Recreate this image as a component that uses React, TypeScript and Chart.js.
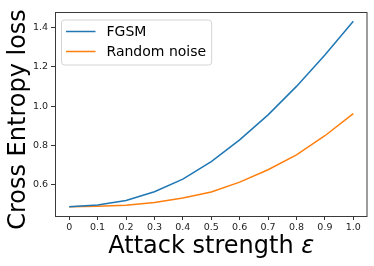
import React, { useEffect, useRef } from "react";
import { Chart, registerables } from "chart.js";

Chart.register(...registerables);

// ---- data ----
const epsilons = [0, 0.1, 0.2, 0.3, 0.4, 0.5, 0.6, 0.7, 0.8, 0.9, 1.0];
const xTickLabels = ["0", "0.1", "0.2", "0.3", "0.4", "0.5", "0.6", "0.7", "0.8", "0.9", "1.0"];
const fgsmLoss = [0.488, 0.497, 0.52, 0.564, 0.628, 0.717, 0.828, 0.955, 1.1, 1.26, 1.431];
const randomNoiseLoss = [0.488, 0.491, 0.496, 0.51, 0.532, 0.563, 0.613, 0.676, 0.752, 0.849, 0.961];
const yTicks = [0.6, 0.8, 1.0, 1.2, 1.4];
const yTickLabels = ["0.6", "0.8", "1.0", "1.2", "1.4"];
const seriesNames = ["FGSM", "Random noise"];
const seriesColors = ["#1f77b4", "#ff7f0e"];
const xTitleText = "Attack strength ";
const xTitleSymbol = "ε";
const yTitleText = "Cross Entropy loss";

const FONT = "'DejaVu Sans', sans-serif";

const decorPlugin = {
  id: "decor",
  afterDraw(chart: any) {
    const ctx = chart.ctx as CanvasRenderingContext2D;
    const ca = chart.chartArea;
    ctx.save();
    // frame
    ctx.strokeStyle = "#3a3a3a";
    ctx.lineWidth = 1;
    ctx.strokeRect(ca.left + 0.5, ca.top + 0.5, ca.right - ca.left - 1, ca.bottom - ca.top);

    // legend
    ctx.font = `14px ${FONT}`;
    const boxL = ca.left + 6.5;
    const boxT = ca.top + 8;
    const textX = boxL + 45;
    let maxW = 0;
    seriesNames.forEach((n) => (maxW = Math.max(maxW, ctx.measureText(n).width)));
    const boxW = textX + maxW + 5.5 - boxL;
    const boxH = 45;
    const r = 3;
    ctx.beginPath();
    ctx.moveTo(boxL + r, boxT);
    ctx.lineTo(boxL + boxW - r, boxT);
    ctx.arcTo(boxL + boxW, boxT, boxL + boxW, boxT + r, r);
    ctx.lineTo(boxL + boxW, boxT + boxH - r);
    ctx.arcTo(boxL + boxW, boxT + boxH, boxL + boxW - r, boxT + boxH, r);
    ctx.lineTo(boxL + r, boxT + boxH);
    ctx.arcTo(boxL, boxT + boxH, boxL, boxT + boxH - r, r);
    ctx.lineTo(boxL, boxT + r);
    ctx.arcTo(boxL, boxT, boxL + r, boxT, r);
    ctx.closePath();
    ctx.fillStyle = "rgba(255,255,255,0.8)";
    ctx.fill();
    ctx.strokeStyle = "#d4d4d4";
    ctx.lineWidth = 1;
    ctx.stroke();

    seriesNames.forEach((name, i) => {
      const cy = boxT + 11.5 + i * 20;
      ctx.strokeStyle = seriesColors[i];
      ctx.lineWidth = 1.5;
      ctx.beginPath();
      ctx.moveTo(boxL + 4.5, cy);
      ctx.lineTo(boxL + 34, cy);
      ctx.stroke();
      ctx.fillStyle = "#000";
      ctx.textAlign = "left";
      ctx.textBaseline = "middle";
      ctx.fillText(name, textX, cy + 0.5);
    });

    // x title
    const normalFont = `24px ${FONT}`;
    const italicFont = `italic 24px ${FONT}`;
    ctx.font = normalFont;
    const w1 = ctx.measureText(xTitleText).width;
    ctx.font = italicFont;
    const w2 = ctx.measureText(xTitleSymbol).width;
    const cx = (ca.left + ca.right) / 2;
    const startX = cx - (w1 + w2) / 2;
    ctx.fillStyle = "#000";
    ctx.textAlign = "left";
    ctx.textBaseline = "alphabetic";
    ctx.font = normalFont;
    ctx.fillText(xTitleText, startX, 253);
    ctx.font = italicFont;
    ctx.fillText(xTitleSymbol, startX + w1, 253);

    // y title
    ctx.font = normalFont;
    ctx.translate(24.5, 119.5);
    ctx.rotate(-Math.PI / 2);
    ctx.textAlign = "center";
    ctx.fillText(yTitleText, 0, 0);
    ctx.restore();
  },
};

export default function App() {
  const ref = useRef<HTMLCanvasElement | null>(null);
  useEffect(() => {
    if (!ref.current) return;
    const chart = new Chart(ref.current, {
      type: "line",
      data: {
        datasets: [
          {
            label: seriesNames[0],
            data: epsilons.map((x, i) => ({ x, y: fgsmLoss[i] })),
            borderColor: seriesColors[0],
            backgroundColor: seriesColors[0],
            borderWidth: 1.5,
            pointRadius: 0,
            tension: 0,
            fill: false,
          },
          {
            label: seriesNames[1],
            data: epsilons.map((x, i) => ({ x, y: randomNoiseLoss[i] })),
            borderColor: seriesColors[1],
            backgroundColor: seriesColors[1],
            borderWidth: 1.5,
            pointRadius: 0,
            tension: 0,
            fill: false,
          },
        ],
      },
      options: {
        animation: false,
        responsive: false,
        devicePixelRatio: 1,
        layout: { padding: { left: 0, right: 6.5, top: 12, bottom: 0 } },
        plugins: { legend: { display: false }, tooltip: { enabled: false } },
        scales: {
          x: {
            type: "linear",
            min: -0.05,
            max: 1.05,
            afterBuildTicks: (scale: any) => {
              scale.ticks = epsilons.map((v) => ({ value: v }));
            },
            afterFit: (scale: any) => {
              scale.height = 50;
            },
            ticks: {
              autoSkip: false,
              maxRotation: 0,
              padding: 2,
              color: "#222",
              font: { family: FONT, size: 9.5 },
              callback: (_v: any, i: number) => xTickLabels[i],
            },
            grid: { drawOnChartArea: false, drawTicks: true, tickLength: 4, color: "#333" },
            border: { display: false },
            title: { display: false },
          },
          y: {
            type: "linear",
            min: 0.4409,
            max: 1.4782,
            afterBuildTicks: (scale: any) => {
              scale.ticks = yTicks.map((v) => ({ value: v }));
            },
            afterFit: (scale: any) => {
              scale.width = 55;
            },
            ticks: {
              autoSkip: false,
              padding: 3,
              color: "#222",
              font: { family: FONT, size: 9.5 },
              callback: (_v: any, i: number) => yTickLabels[i],
            },
            grid: { drawOnChartArea: false, drawTicks: true, tickLength: 4, color: "#333" },
            border: { display: false },
            title: { display: false },
          },
        },
      },
      plugins: [decorPlugin],
    } as any);
    return () => chart.destroy();
  }, []);
  return (
    <div style={{ position: "absolute", left: 0, top: 0, width: 374, height: 266, background: "#fff" }}>
      <canvas ref={ref} width={374} height={266} style={{ display: "block", width: 374, height: 266 }} />
    </div>
  );
}
